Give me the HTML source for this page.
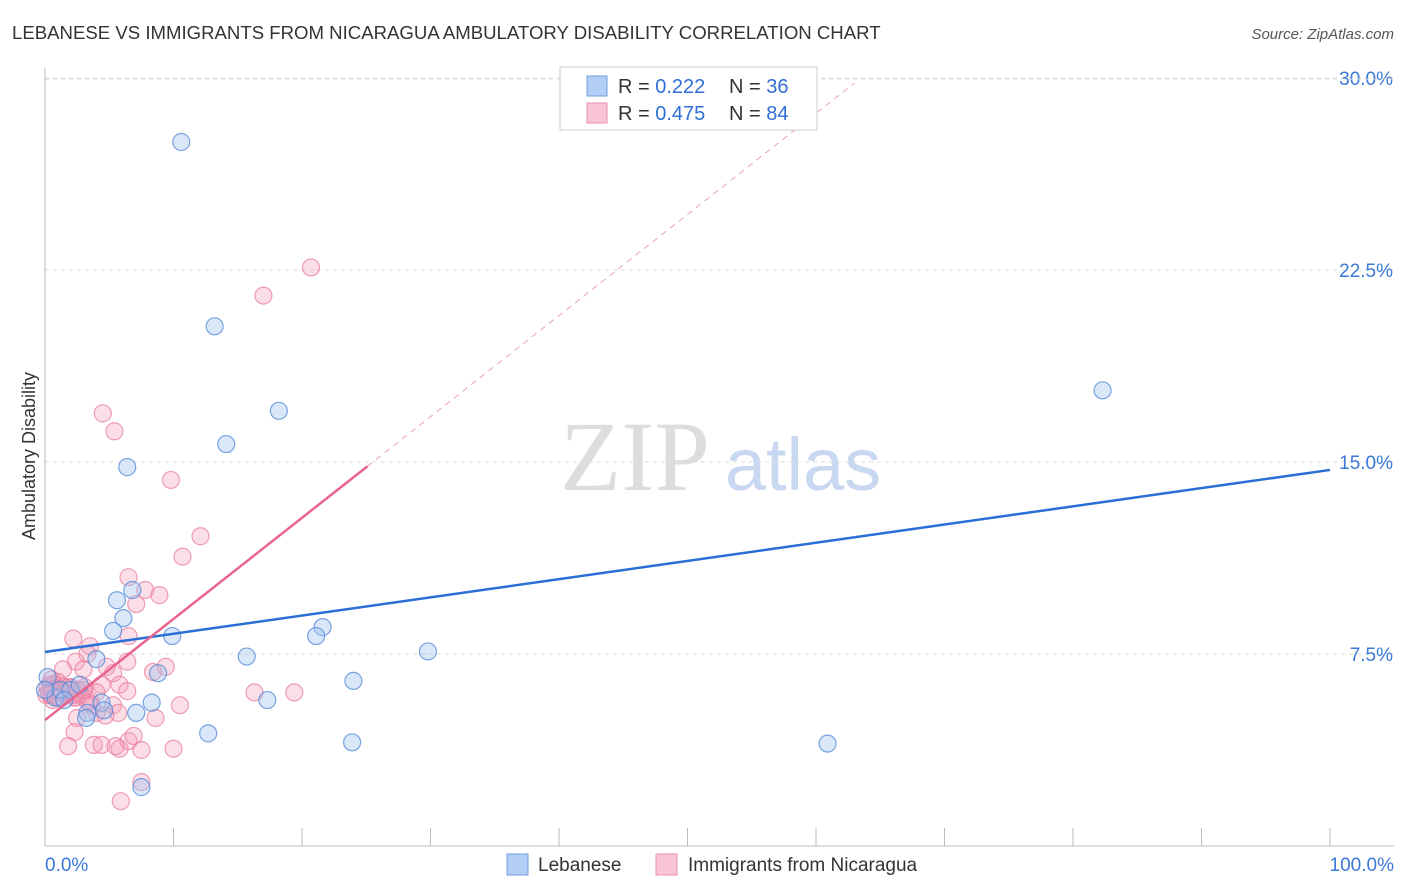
<!DOCTYPE html>
<html><head><meta charset="utf-8">
<style>
body{margin:0;background:#fff;font-family:"Liberation Sans",sans-serif;}
#wrap{position:relative;width:1406px;height:892px;overflow:hidden;}
</style></head>
<body>
<div id="wrap">
<svg id="chart" width="1406" height="892">
<text x="12" y="39" font-size="18.6" fill="#333">LEBANESE VS IMMIGRANTS FROM NICARAGUA AMBULATORY DISABILITY CORRELATION CHART</text>
<text x="1394" y="39" font-size="15" fill="#555" text-anchor="end" font-style="italic">Source: ZipAtlas.com</text>
<text x="35" y="456" font-size="18" fill="#333" text-anchor="middle" transform="rotate(-90 35 456)">Ambulatory Disability</text>
<g>
<text x="635" y="490" font-size="100" fill="#ddd" font-family="Liberation Serif,serif" text-anchor="middle">ZIP</text>
<text x="803" y="490" font-size="74" fill="#c8d8f0" text-anchor="middle">atlas</text>
</g>
<g id="grid"></g>
<g id="axes"></g>
<g id="pts"></g>
<g id="lines"></g>
<g>
<rect x="560" y="67" width="257" height="63" fill="#fff" stroke="#ccc"/>
<rect x="587" y="76" width="20" height="20" fill="#b3cef5" stroke="#6f9ee0"/>
<rect x="587" y="103" width="20" height="20" fill="#f9c5d5" stroke="#eb8fab"/>
<text x="618" y="93" font-size="20" fill="#333">R = <tspan fill="#2f6fd6">0.222</tspan><tspan x="729">N = </tspan><tspan fill="#2f6fd6">36</tspan></text>
<text x="618" y="120" font-size="20" fill="#333">R = <tspan fill="#2f6fd6">0.475</tspan><tspan x="729">N = </tspan><tspan fill="#2f6fd6">84</tspan></text>
</g>
<g>
<rect x="507" y="854" width="21" height="21" fill="#b3cef5" stroke="#6f9ee0"/>
<text x="538" y="871" font-size="19" fill="#333">Lebanese</text>
<rect x="656" y="854" width="21" height="21" fill="#f9c5d5" stroke="#eb8fab"/>
<text x="688" y="871" font-size="19" fill="#333">Immigrants from Nicaragua</text>
</g>
<text x="45" y="871" font-size="19" fill="#3a78d8">0.0%</text>
<text x="1394" y="871" font-size="19" fill="#3a78d8" text-anchor="end">100.0%</text>
</svg>
</div>
<script>
const yTicks=[7.5,15,22.5,30];
const yTickLabels=["7.5%","15.0%","22.5%","30.0%"];
const xTicks=[0,10,20,30,40,50,60,70,80,90,100];
const blueX=[10.6,13.2,18.2,14.1,6.4,82.3,5.6,6.8,6.1,5.3,9.9,21.6,21.1,29.8,15.7,4.0,8.8,24.0,0.2,0.8,1.2,2.0,2.7,8.3,4.4,17.3,7.1,4.6,3.3,3.2,12.7,23.9,60.9,7.5,0,1.5];
const blueY=[27.5,20.3,17.0,15.7,14.8,17.8,9.6,10.0,8.9,8.4,8.2,8.55,8.2,7.6,7.4,7.3,6.75,6.45,6.6,5.8,6.1,6.1,6.3,5.6,5.6,5.7,5.2,5.3,5.2,5.0,4.4,4.05,4.0,2.3,6.1,5.7];
const pinkX=[20.7,17.0,4.5,5.4,9.8,12.1,10.7,6.5,7.8,8.9,7.1,2.2,6.5,3.5,3.3,6.4,2.4,9.4,8.4,4.8,1.4,5.3,3.0,5.8,4.4,6.4,16.3,19.4,0.5,0.8,1.0,1.3,1.6,2.0,0.4,0.6,2.3,2.7,3.5,4.0,10.5,5.3,4.0,5.7,4.7,2.5,8.6,2.3,1.8,3.8,4.4,5.8,6.5,6.9,7.5,10.0,7.5,5.9,5.5,0.2,0.3,0.5,0.7,0.9,1.1,1.2,1.5,1.7,1.9,2.1,2.4,2.6,2.8,3.1,3.4,0.1,0.4,0.6,1.0,1.4,1.8,2.2,3.0,3.6];
const pinkY=[22.6,21.5,16.9,16.2,14.3,12.1,11.3,10.5,10.0,9.8,9.45,8.1,8.2,7.8,7.5,7.2,7.2,7.0,6.8,7.0,6.9,6.75,6.9,6.3,6.3,6.05,6.0,6.0,6.5,6.2,6.4,6.1,5.9,6.2,5.9,5.7,5.8,6.0,5.7,6.0,5.5,5.5,5.2,5.2,5.1,5.0,5.0,4.45,3.9,3.95,3.95,3.8,4.1,4.3,3.75,3.8,2.5,1.75,3.9,6.2,6.0,5.9,6.3,6.1,5.8,6.0,6.2,5.9,6.1,6.0,5.8,6.1,5.9,6.2,5.6,5.9,6.3,6.1,5.8,6.0,6.2,5.9,6.1,5.5];
const blueLine=[7.58,14.69];
const pinkLine=[4.92,0.395];
const pinkSolidEnd=25.1, pinkDashEnd=63;
const X=v=>45+v*12.85, Y=v=>846-v*25.6;
const NS="http://www.w3.org/2000/svg";
function mk(parent,tag,attrs){const e=document.createElementNS(NS,tag);for(const k in attrs)e.setAttribute(k,attrs[k]);document.getElementById(parent).appendChild(e);return e;}
yTicks.forEach((t,i)=>{
 const l=mk('grid','line',{x1:45,x2:1394,y1:Y(t),y2:Y(t),stroke:'#ddd','stroke-dasharray':'4,4'});
 
 
 const tx=mk('grid','text',{x:1393,y:Y(t)+7,'font-size':19,fill:'#3a78d8','text-anchor':'end'});
 tx.textContent=yTickLabels[i];
 
 
});
const topLine=mk('grid','line',{x1:45,x2:1394,y1:79,y2:79,stroke:'#ddd','stroke-dasharray':'4,4'});


const ya=mk('axes','line',{x1:45,x2:45,y1:68,y2:846,stroke:'#bbb'});


const xa=mk('axes','line',{x1:45,x2:1394,y1:846,y2:846,stroke:'#bbb'});


xTicks.forEach(t=>{
 const l=mk('axes','line',{x1:X(t),x2:X(t),y1:828,y2:846,stroke:'#bbb'});
 
 
});
pinkX.forEach((v,i)=>{
 const c=mk('pts','circle',{cx:X(v),cy:Y(pinkY[i]),r:8.5,fill:'rgba(246,160,185,0.35)',stroke:'rgba(232,120,155,0.7)','stroke-width':1.2});
 
 
});
blueX.forEach((v,i)=>{
 const c=mk('pts','circle',{cx:X(v),cy:Y(blueY[i]),r:8.5,fill:'rgba(160,195,240,0.4)',stroke:'rgba(80,135,215,0.75)','stroke-width':1.2});
 
 
});
const bl=mk('lines','line',{x1:X(0),y1:Y(blueLine[0]),x2:X(100),y2:Y(blueLine[1]),stroke:'#2a6fd6','stroke-width':2.5});


const pl=mk('lines','line',{x1:X(0),y1:Y(pinkLine[0]),x2:X(pinkSolidEnd),y2:Y(pinkLine[0]+pinkLine[1]*pinkSolidEnd),stroke:'#e8648f','stroke-width':2.5});


const pd=mk('lines','line',{x1:X(pinkSolidEnd),y1:Y(pinkLine[0]+pinkLine[1]*pinkSolidEnd),x2:X(pinkDashEnd),y2:Y(pinkLine[0]+pinkLine[1]*pinkDashEnd),stroke:'#e8a0b8','stroke-width':1,'stroke-dasharray':'6,5'});


</script>
</body></html>
